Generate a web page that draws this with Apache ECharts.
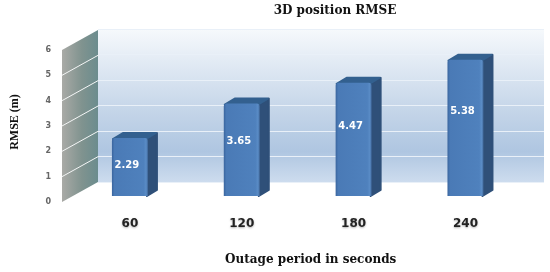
<!DOCTYPE html>
<html>
<head>
<meta charset="utf-8">
<title>3D position RMSE</title>
<script src="https://cdn.jsdelivr.net/npm/echarts@6/dist/echarts.min.js"></script>
<style>
html, body { margin: 0; padding: 0; background: #fff; }
#chart { width: 550px; height: 272px; }
</style>
</head>
<body>
<div id="chart"></div>
<script>
var categories = ['60', '120', '180', '240'];
var rmse = [2.29, 3.65, 4.47, 5.38];
var yTicks = [0, 1, 2, 3, 4, 5, 6];

var serif = '"Liberation Serif", serif';
var wideSerif = '"DejaVu Serif", serif';
var sans = '"DejaVu Sans", sans-serif';

function hGrad(stops) {
    return new echarts.graphic.LinearGradient(0, 0, 1, 0, stops);
}

// side wall, drawn in the front plane and pushed back to the rear wall
function renderWall(params, api) {
    var x = params.coordSys.x - 12;
    var y0 = api.coord([0, 0])[1];
    var y6 = api.coord([0, 6])[1];
    var children = [{
        type: 'polygon',
        shape: { points: [[x, y0], [x, y6], [x + 36, y6 - 20], [x + 36, y0 - 20]] },
        style: { fill: hGrad([
            { offset: 0, color: '#a9aaa6' },
            { offset: 0.55, color: '#80938f' },
            { offset: 1, color: '#6b8c8e' }
        ]) }
    }];
    yTicks.slice(1, 6).forEach(function (t) {
        var y = api.coord([0, t])[1];
        children.push({
            type: 'line',
            shape: { x1: x, y1: y, x2: x + 36, y2: y - 20 },
            style: { stroke: '#f4f6f6', lineWidth: 1 }
        });
    });
    return { type: 'group', children: children };
}

function renderBar(params, api) {
    var val = api.value(1);
    var top = api.coord([api.value(0), val]);
    var base = api.coord([api.value(0), 0]);
    var w = 36, dx = 10, dy = 6;
    var l = top[0] - w / 2, r = l + w;
    var yTop = top[1] - 6, yBase = base[1] - 6;
    // the labels of the original do not sit at mid height
    var labelY = api.coord([api.value(0), val * 0.69 - 0.355])[1] - 6;
    return {
        type: 'group',
        children: [{
            type: 'polygon',
            shape: { points: [[r - 1, yTop + 1], [r + dx - 1, yTop - dy + 1], [r + dx - 1, yBase - dy], [r - 1, yBase]] },
            style: { fill: '#2f5079', stroke: '#2f5079', lineWidth: 2, lineJoin: 'round' }
        }, {
            type: 'polygon',
            shape: { points: [[l + 1, yTop + 1], [l + dx + 1, yTop - dy + 1], [r + dx - 2, yTop - dy + 1], [r - 2, yTop + 1]] },
            style: { fill: '#33608f', stroke: '#33608f', lineWidth: 2, lineJoin: 'round' }
        }, {
            type: 'rect',
            shape: { x: l, y: yTop, width: w, height: yBase - yTop, r: [3, 3, 0, 0] },
            style: { fill: hGrad([
                { offset: 0, color: '#3a659e' },
                { offset: 0.07, color: '#4a7ab6' },
                { offset: 0.88, color: '#4f81bd' },
                { offset: 0.95, color: '#5a8cc6' },
                { offset: 1, color: '#41699c' }
            ]) }
        }, {
            type: 'text',
            style: {
                x: top[0] - 3, y: labelY,
                text: val.toFixed(2),
                fill: '#fff',
                font: 'bold 10px ' + sans,
                align: 'center', verticalAlign: 'middle'
            }
        }]
    };
}

var chart = echarts.init(document.getElementById('chart'));
chart.setOption({
    animation: false,
    backgroundColor: '#fff',
    title: {
        text: '3D position RMSE',
        left: 330, top: 0, textAlign: 'center',
        textStyle: { fontFamily: wideSerif, fontWeight: 'bold', fontSize: 12, color: '#111' }
    },
    grid: [{
        left: 74, width: 447.4, top: 50, height: 152, outerBoundsMode: 'none'
    }, {
        left: 98, width: 446, top: 29, height: 153, outerBoundsMode: 'none',
        show: true, borderWidth: 0,
        backgroundColor: new echarts.graphic.LinearGradient(0, 0, 0, 1, [
            { offset: 0, color: '#f6f9fc' },
            { offset: 0.55, color: '#c3d4e8' },
            { offset: 0.8, color: '#afc6e1' },
            { offset: 1, color: '#cddcee' }
        ])
    }],
    xAxis: [{
        type: 'category', gridIndex: 0, data: categories,
        name: 'Outage period in seconds',
        nameLocation: 'middle', nameGap: 52,
        nameTextStyle: { fontFamily: wideSerif, fontWeight: 'bold', fontSize: 12, color: '#111', padding: [0, 0, 0, 26] },
        axisLine: { show: false }, axisTick: { show: false },
        axisLabel: {
            margin: 16, fontFamily: sans, fontWeight: 'bold', fontSize: 12, color: '#222',
            textShadowColor: 'rgba(0,0,0,0.3)', textShadowBlur: 2, textShadowOffsetY: 1
        }
    }, {
        type: 'category', gridIndex: 1, data: categories, show: false
    }],
    yAxis: [{
        type: 'value', gridIndex: 0, min: 0, max: 6, interval: 1, offset: 12,
        name: 'RMSE (m)',
        nameLocation: 'middle', nameGap: 41,
        nameTextStyle: { fontFamily: serif, fontWeight: 'bold', fontSize: 12, color: '#111', padding: [0, 0, 0, 8] },
        axisLine: { show: false }, axisTick: { show: false }, splitLine: { show: false },
        axisLabel: { margin: 11, fontFamily: sans, fontWeight: 'bold', fontSize: 8, color: '#666' }
    }, {
        type: 'value', gridIndex: 1, min: 0, max: 6, interval: 1,
        axisLine: { show: false }, axisTick: { show: false }, axisLabel: { show: false },
        splitLine: { show: true, lineStyle: { color: '#e9f0f8', width: 1 } }
    }],
    series: [{
        type: 'custom', name: 'wall', xAxisIndex: 0, yAxisIndex: 0,
        renderItem: renderWall, data: [[categories[0], 0]], silent: true, z: 1
    }, {
        type: 'custom', name: 'RMSE', xAxisIndex: 0, yAxisIndex: 0,
        renderItem: renderBar,
        encode: { x: 0, y: 1 },
        data: categories.map(function (c, i) { return [i, rmse[i]]; }),
        z: 3
    }]
});
</script>
</body>
</html>
